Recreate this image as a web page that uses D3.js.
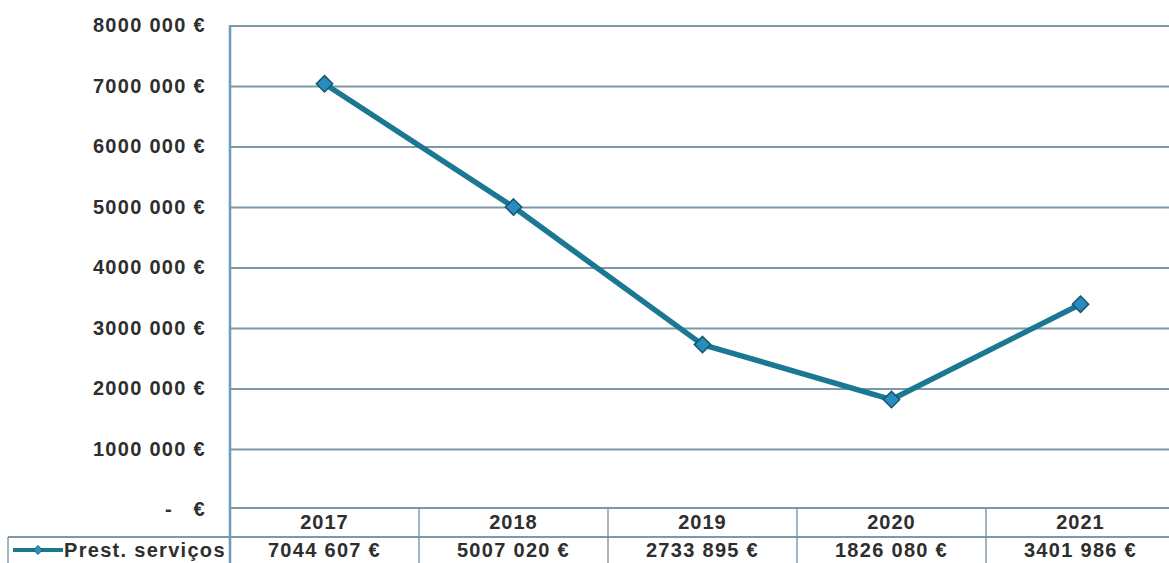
<!DOCTYPE html>
<html>
<head>
<meta charset="utf-8">
<script src="https://cdn.jsdelivr.net/npm/d3@7"></script>
<style>
  body { margin: 0; background: #fff; }
  svg text { font-family: "Liberation Sans", Arial, sans-serif; font-weight: bold; fill: #2e2e2e; }
</style>
</head>
<body>
<div id="chart"></div>
<script>
// Chart data
const years = ["2017", "2018", "2019", "2020", "2021"];
const values = [7044607, 5007020, 2733895, 1826080, 3401986];
const valueLabels = ["7044 607 €", "5007 020 €", "2733 895 €", "1826 080 €", "3401 986 €"];
const yTicks = [0, 1000000, 2000000, 3000000, 4000000, 5000000, 6000000, 7000000, 8000000];
const yTickLabels = ["-   €", "1000 000 €", "2000 000 €", "3000 000 €", "4000 000 €", "5000 000 €", "6000 000 €", "7000 000 €", "8000 000 €"];
const seriesName = "Prest. serviços";

const svgWidth = 1169;
const svgHeight = 563;
const margin = { top: 26, left: 230 };
const plotHeight = 484;
const bandWidth = 189;

const svg = d3.select('#chart').append('svg')
    .attr('width', svgWidth)
    .attr('height', svgHeight);

const xScale = d3.scaleBand()
    .domain(years)
    .range([margin.left, margin.left + bandWidth * years.length]);

const yScale = d3.scaleLinear()
    .domain([0, 8000000])
    .range([margin.top + plotHeight, margin.top]);

const gridColor = '#7d98a6';
const lineColor = '#1a7893';

// Horizontal grid lines
svg.append('g')
    .selectAll('line')
    .data(yTicks.slice(1))
    .enter()
    .append('line')
    .attr('x1', margin.left)
    .attr('x2', svgWidth)
    .attr('y1', d => yScale(d))
    .attr('y2', d => yScale(d))
    .attr('stroke', gridColor)
    .attr('stroke-width', 1.8);

// Y tick labels
svg.append('g')
    .selectAll('text')
    .data(yTicks)
    .enter()
    .append('text')
    .attr('x', 206)
    .attr('y', d => yScale(d) + 6)
    .attr('text-anchor', 'end')
    .attr('xml:space', 'preserve')
    .style('white-space', 'pre')
    .style('font-size', '20px')
    .style('letter-spacing', '1.3px')
    .text((d, i) => yTickLabels[i]);

// Table below the plot
const tableTop = yScale(0) - 2;
const rowH = 29;
const tableLeft = 8;

const table = svg.append('g');
// horizontal table lines
[tableTop, tableTop + rowH].forEach((y, i) => {
    table.append('line')
        .attr('x1', i === 0 ? margin.left : tableLeft)
        .attr('x2', svgWidth)
        .attr('y1', y).attr('y2', y)
        .attr('stroke', gridColor)
        .attr('stroke-width', 1.8);
});
// vertical dividers between years
table.selectAll('line.div')
    .data(years.slice(1))
    .enter()
    .append('line')
    .attr('class', 'div')
    .attr('x1', d => xScale(d))
    .attr('x2', d => xScale(d))
    .attr('y1', tableTop)
    .attr('y2', svgHeight)
    .attr('stroke', '#6f8fa0')
    .attr('stroke-width', 1.3);
// legend cell left edge
table.append('line')
    .attr('x1', tableLeft).attr('x2', tableLeft)
    .attr('y1', tableTop + rowH).attr('y2', svgHeight)
    .attr('stroke', '#6f8fa0')
    .attr('stroke-width', 1.3);

// year headers
table.selectAll('text.year')
    .data(years)
    .enter()
    .append('text')
    .attr('class', 'year')
    .attr('x', d => xScale(d) + xScale.bandwidth() / 2)
    .attr('y', tableTop + 21)
    .attr('text-anchor', 'middle')
    .style('font-size', '20px')
    .style('letter-spacing', '1px')
    .text(d => d);

// values row
table.selectAll('text.val')
    .data(valueLabels)
    .enter()
    .append('text')
    .attr('class', 'val')
    .attr('x', (d, i) => xScale(years[i]) + xScale.bandwidth() / 2)
    .attr('y', tableTop + rowH + 20)
    .attr('text-anchor', 'middle')
    .style('font-size', '20px')
    .style('letter-spacing', '1.3px')
    .text(d => d);

// legend key
const legY = tableTop + rowH + 13;
table.append('line')
    .attr('x1', 13).attr('x2', 63)
    .attr('y1', legY).attr('y2', legY)
    .attr('stroke', lineColor)
    .attr('stroke-width', 4);
table.append('path')
    .attr('d', d3.symbol().type(d3.symbolDiamond2).size(50))
    .attr('transform', `translate(38,${legY})`)
    .attr('fill', '#2b8fbf')
    .attr('stroke', '#155a73')
    .attr('stroke-width', 1);
table.append('text')
    .attr('x', 64)
    .attr('y', legY + 7)
    .style('font-size', '20px')
    .style('letter-spacing', '1.3px')
    .text(seriesName);

// Left axis line
svg.append('line')
    .attr('x1', margin.left).attr('x2', margin.left)
    .attr('y1', margin.top - 1).attr('y2', svgHeight)
    .attr('stroke', '#6e9cb8')
    .attr('stroke-width', 2.5);

// Data line
const line = d3.line()
    .x((d, i) => xScale(years[i]) + xScale.bandwidth() / 2)
    .y(d => yScale(d));

svg.append('path')
    .datum(values)
    .attr('d', line)
    .attr('fill', 'none')
    .attr('stroke', lineColor)
    .attr('stroke-width', 5.5)
    .attr('stroke-linejoin', 'round');

// Diamond markers
svg.selectAll('path.marker')
    .data(values)
    .enter()
    .append('path')
    .attr('class', 'marker')
    .attr('d', d3.symbol().type(d3.symbolDiamond2).size(170))
    .attr('transform', (d, i) => `translate(${xScale(years[i]) + xScale.bandwidth() / 2},${yScale(d)})`)
    .attr('fill', '#2a8cbd')
    .attr('stroke', '#14566e')
    .attr('stroke-width', 1.5);
</script>
</body>
</html>
